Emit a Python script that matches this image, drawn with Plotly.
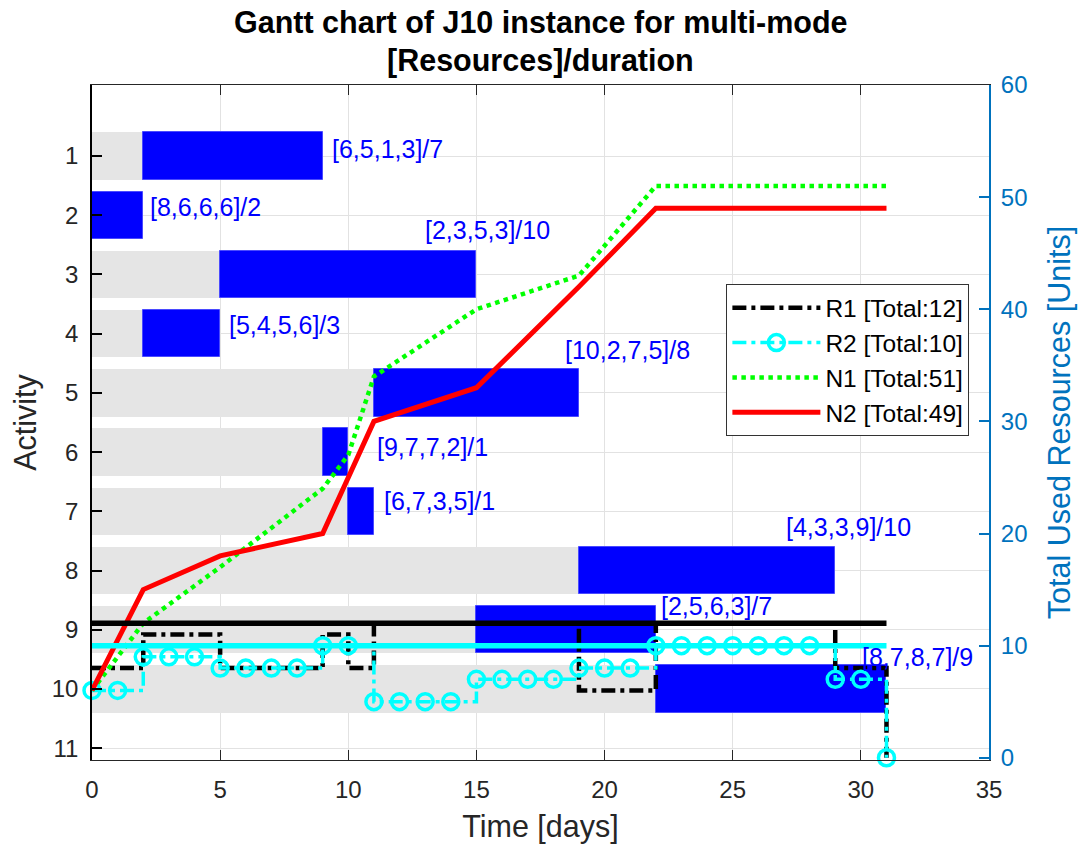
import plotly.graph_objects as go

# ---------------- data ----------------
activities = [1, 2, 3, 4, 5, 6, 7, 8, 9, 10]
start_times = [2, 0, 5, 2, 11, 9, 10, 19, 15, 22]
durations = [7, 2, 10, 3, 8, 1, 1, 10, 7, 9]
resources = ["[6,5,1,3]", "[8,6,6,6]", "[2,3,5,3]", "[5,4,5,6]", "[10,2,7,5]",
             "[9,7,7,2]", "[6,7,3,5]", "[4,3,3,9]", "[2,5,6,3]", "[8,7,8,7]"]

# label placement relative to bar end (days, activity rows)
label_dx = [0.3, 0.19, -2.1, 0.27, -0.63, 1.04, 0.31, -2.0, 0.12, -1.03]
label_dy = [-0.12, -0.14, -0.75, -0.15, -0.73, -0.08, -0.17, -0.74, -0.4, -0.54]

time_steps = list(range(0, 32))
r1_usage = [8, 8, 11, 11, 11, 8, 8, 8, 8, 11, 8, 12, 12, 12, 12, 12, 12, 12, 12,
            6, 6, 6, 12, 12, 12, 12, 12, 12, 12, 8, 8, 0]
r2_usage = [6, 6, 9, 9, 9, 8, 8, 8, 8, 10, 10, 5, 5, 5, 5, 7, 7, 7, 7,
            8, 8, 8, 10, 10, 10, 10, 10, 10, 10, 7, 7, 0]
r1_capacity = 12
r2_capacity = 10

event_times = [0, 2, 5, 9, 10, 11, 15, 19, 22, 31]
n1_cumulative = [6, 12, 17, 24, 27, 34, 40, 43, 51, 51]
n2_cumulative = [6, 15, 18, 20, 25, 30, 33, 42, 49, 49]

legend_names = ["R1 [Total:12]", "R2 [Total:10]", "N1 [Total:51]", "N2 [Total:49]"]
title_lines = ["Gantt chart of J10 instance for multi-mode", "[Resources]/duration"]

tick_x = [0, 5, 10, 15, 20, 25, 30, 35]
tick_y2 = [0, 10, 20, 30, 40, 50, 60]

# ---------------- figure ----------------
FONT = "Liberation Sans, Arial, Helvetica, sans-serif"
DARK = "#262626"
RBLUE = "#0072BD"

fig = go.Figure()

# waiting (gray) part of each activity
fig.add_trace(go.Bar(
    y=activities, x=start_times, base=[0] * len(activities), orientation="h",
    width=0.8, marker=dict(color="#e5e5e5", line=dict(width=0)),
    showlegend=False, hoverinfo="skip"))

# execution (blue) part
fig.add_trace(go.Bar(
    y=activities, x=durations, base=start_times, orientation="h",
    width=0.8, marker=dict(color="#0000ff", line=dict(color="#4a4aff", width=1)),
    showlegend=False, hoverinfo="skip"))

# resource usage on right axis
fig.add_trace(go.Scatter(
    x=time_steps, y=r1_usage, yaxis="y2", mode="lines", line_shape="hv",
    line=dict(color="black", width=4.5, dash="14px,5px,4px,5px"),
    name=legend_names[0]))
fig.add_trace(go.Scatter(
    x=time_steps, y=r2_usage, yaxis="y2", mode="lines+markers", line_shape="hv",
    line=dict(color="#00ffff", width=3.5, dash="14px,5px,4px,5px"),
    marker=dict(symbol="circle-open", size=16, color="#00ffff", line=dict(width=3.5)),
    cliponaxis=False, name=legend_names[1]))
fig.add_trace(go.Scatter(
    x=event_times, y=n1_cumulative, yaxis="y2", mode="lines",
    line=dict(color="#00ff00", width=4.5, dash="4.5px,4.5px"),
    name=legend_names[2]))
fig.add_trace(go.Scatter(
    x=event_times, y=n2_cumulative, yaxis="y2", mode="lines",
    line=dict(color="#ff0000", width=5),
    name=legend_names[3]))

# capacity lines
end_time = max(s + d for s, d in zip(start_times, durations))
fig.add_trace(go.Scatter(
    x=[0, end_time], y=[r1_capacity, r1_capacity], yaxis="y2", mode="lines",
    line=dict(color="black", width=5.5), showlegend=False, hoverinfo="skip"))
fig.add_trace(go.Scatter(
    x=[0, end_time], y=[r2_capacity, r2_capacity], yaxis="y2", mode="lines",
    line=dict(color="#00ffff", width=5.5), showlegend=False, hoverinfo="skip"))

# labels
annotations = []
for a, s, d, res, dx, dy in zip(activities, start_times, durations, resources, label_dx, label_dy):
    annotations.append(dict(
        x=s + d + dx, y=a + dy, xref="x", yref="y",
        text=f"{res}/{d}", showarrow=False, xanchor="left", yanchor="middle",
        font=dict(family=FONT, size=25, color="#0000ff")))

# title (two bold lines)
for line, ypos in zip(title_lines, [1.094, 1.037]):
    annotations.append(dict(
        x=0.5, y=ypos, xref="paper", yref="paper", text=f"<b>{line}</b>",
        showarrow=False, xanchor="center", yanchor="middle",
        font=dict(family=FONT, size=30.5, color="black")))

fig.update_layout(
    width=1080, height=845,
    margin=dict(l=92, r=91, t=85, b=85, autoexpand=False),
    paper_bgcolor="white", plot_bgcolor="white",
    font=dict(family=FONT, color=DARK),
    barmode="overlay", bargap=0,
    xaxis=dict(
        range=[0, 35], tickvals=tick_x, ticks="inside", ticklen=10, tickwidth=1.2,
        tickcolor=DARK, showline=True, linecolor=DARK, linewidth=1.2, mirror="ticks",
        showgrid=True, gridcolor="#e2e2e2", gridwidth=1, zeroline=False,
        automargin=False,
        tickfont=dict(size=24, color=DARK), ticklabelstandoff=8,
        title=dict(text="Time [days]", font=dict(size=30.5, color=DARK), standoff=13)),
    yaxis=dict(
        range=[11.2, -0.2], tickvals=list(range(1, 12)), ticks="inside", ticklen=10,
        tickwidth=1.5, tickcolor="black", showline=True, linecolor="black", linewidth=1.5,
        showgrid=True, gridcolor="#e2e2e2", gridwidth=1, zeroline=False,
        automargin=False,
        tickfont=dict(size=24, color=DARK), ticklabelstandoff=7,
        title=dict(text="Activity", font=dict(size=30.5, color=DARK), standoff=6)),
    yaxis2=dict(
        overlaying="y", side="right", range=[-0.2, 60], tickvals=tick_y2,
        ticks="inside", ticklen=10, tickwidth=1.5, tickcolor=RBLUE,
        showline=True, linecolor=RBLUE, linewidth=2, showgrid=False, zeroline=False,
        automargin=False,
        tickfont=dict(size=24, color=RBLUE), ticklabelstandoff=5,
        title=dict(text="Total Used Resources [Units]", font=dict(size=30.5, color=RBLUE), standoff=22)),
    legend=dict(
        x=0.707, y=0.705, xanchor="left", yanchor="top",
        bgcolor="white", bordercolor="#333333", borderwidth=1.2,
        font=dict(family=FONT, size=24.5, color="black"),
        itemwidth=88, tracegroupgap=0),
    annotations=annotations,
    showlegend=True,
)

# remove the default 8px page margin so the figure sits at the window's corner
fig.write_html("out.html", config={"displayModeBar": False},
               post_script="document.body.style.margin='0';")
